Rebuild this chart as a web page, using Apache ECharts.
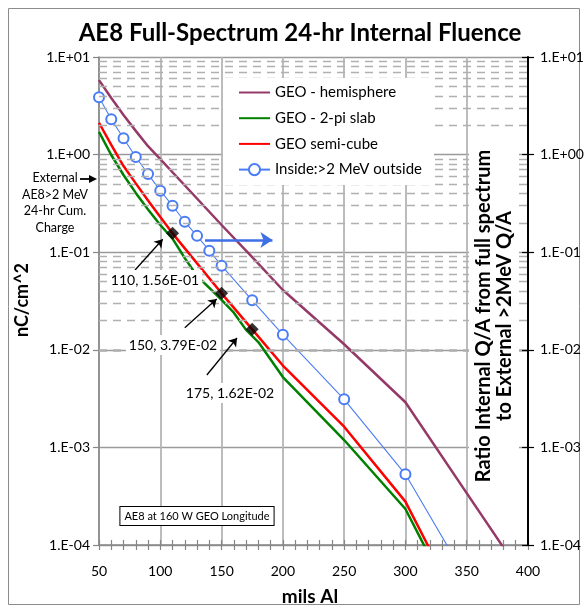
<!DOCTYPE html>
<html><head><meta charset="utf-8">
<script src="https://cdn.jsdelivr.net/npm/echarts@6/dist/echarts.min.js"></script>
<style>html,body{margin:0;padding:0;background:#fff}#c{width:587px;height:610px}</style>
</head><body><div id="c"></div>
<script>
const FONT = 'Lato, "Liberation Sans", sans-serif';

// ---- data (mils Al vs nC/cm^2) ----
const hemiMils = [50,60,70,80,90,100,125,150,175,200,250,300,350,400];
const hemiVals = [5.8,3.8,2.55,1.75,1.22,0.90,0.414,0.19,0.089,0.041,0.0114,0.0029,0.00034,0.00004];

const slabMils = [50,60,70,80,90,100,110,120,130,140,150,160,170,180,200,250,300,350];
const slabVals = [1.71,0.99,0.618,0.405,0.274,0.19,0.138,0.087,0.057,0.043,0.0324,0.024,0.016,0.012,0.00526,0.00119,0.000234,0.000014];

const cubeMils = [50,60,70,80,90,100,110,150,175,200,250,300,350];
const cubeVals = [2.12,1.26,0.764,0.507,0.338,0.229,0.156,0.0379,0.0162,0.0069,0.00163,0.000278,0.0000166];

const insideMils = [50,60,70,80,90,100,110,120,130,140,150,175,200,250,300,350];
const insideVals = [3.86,2.30,1.47,0.944,0.632,0.427,0.299,0.205,0.147,0.1035,0.0728,0.0321,0.0143,0.00311,0.00053,0.000045];

const markMils = [110,150,175];
const markVals = [0.156,0.0379,0.0162];
const markLabels = ['110, 1.56E-01','150, 3.79E-02','175, 1.62E-02'];

const seriesNames = ['GEO - hemisphere','GEO - 2-pi slab','GEO semi-cube','Inside:>2 MeV outside'];

const yMin = 1e-4, yMax = 10;
const minorMultipliers = [2,3,4,5,6,7,8,9];

function pairs(xs, ys){ return xs.map((x,i)=>[x, ys[i]]); }
function sci(v){
  const e = Math.round(Math.log10(v));
  const a = Math.abs(e);
  return '1.E' + (e < 0 ? '-' : '+') + (a < 10 ? '0' : '') + a;
}
const minorLines = [];
for (let k = -4; k <= 0; k++) minorMultipliers.forEach(m => minorLines.push({yAxis: m * Math.pow(10, k)}));

const chart = echarts.init(document.getElementById('c'), null, {renderer:'canvas'});

const logAxisBase = {type:'log', logBase:10, min:yMin, max:yMax, gridIndex:0};

const option = {
  animation:false,
  backgroundColor:'#fff',
  textStyle:{fontFamily:FONT},
  grid:{left:99, right:59, top:57, bottom:65, containLabel:false},
  legend:{
    show:true, orient:'vertical', left:223, top:78,
    data:[
      {name:seriesNames[0], itemStyle:{opacity:0}},
      {name:seriesNames[1], itemStyle:{opacity:0}},
      {name:seriesNames[2], itemStyle:{opacity:0}},
      {name:seriesNames[3]}
    ],
    backgroundColor:'#fff',
    padding:[7,12,8,15],
    itemWidth:31, itemHeight:14, itemGap:10.7,
    textStyle:{fontSize:15, color:'#000', fontFamily:FONT},
    z:20
  },
  xAxis:[
    {type:'value', min:50, max:400, interval:50, position:'bottom',
     axisLine:{show:true, onZero:false, lineStyle:{color:'#868686', width:1.5}},
     axisTick:{show:true, length:5, lineStyle:{color:'#868686', width:1.2}},
     minorTick:{show:true, splitNumber:5, length:5, lineStyle:{color:'#868686', width:1.2}},
     axisLabel:{margin:19, fontSize:14, color:'#000', fontFamily:FONT},
     splitLine:{show:true, lineStyle:{color:'#b5b5b5', width:1.8}}},
    {type:'value', min:50, max:400, interval:50, position:'bottom',
     axisLine:{show:false},
     axisTick:{show:true, inside:true, length:5, lineStyle:{color:'#868686', width:1.2}},
     minorTick:{show:true, splitNumber:5, length:5, lineStyle:{color:'#868686', width:1.2}},
     axisLabel:{show:false}, splitLine:{show:false}}
  ],
  yAxis:[
    Object.assign({}, logAxisBase, {position:'left',
     axisLine:{show:true, onZero:false, lineStyle:{color:'#868686', width:1.5}},
     axisTick:{show:true, length:6, lineStyle:{color:'#868686', width:1.2}},
     axisLabel:{margin:9, fontSize:14, color:'#000', fontFamily:FONT, formatter:sci},
     splitLine:{show:true, lineStyle:{color:'#9a9a9a', width:1.4}}}),
    Object.assign({}, logAxisBase, {position:'right',
     axisLine:{show:true, onZero:false, lineStyle:{color:'#000', width:2}},
     axisTick:{show:true, length:6, lineStyle:{color:'#000', width:1.2}},
     axisLabel:{margin:12, fontSize:14, color:'#000', fontFamily:FONT, formatter:sci},
     splitLine:{show:false}, z:30}),
    Object.assign({}, logAxisBase, {position:'right',
     axisLine:{show:false},
     axisTick:{show:true, inside:true, length:6, lineStyle:{color:'#000', width:1.2}},
     axisLabel:{show:false}, splitLine:{show:false}, z:30})
  ],
  series:[
    {name:'minor-grid', type:'line', data:[[50, 10]], symbol:'none', lineStyle:{width:0}, z:1,
     silent:true, tooltip:{show:false},
     markLine:{silent:true, symbol:['none','none'], label:{show:false},
       lineStyle:{type:[8,6], color:'#b0b0b0', width:1.4}, data:minorLines, animation:false}},
    {name:seriesNames[0], type:'line', data:pairs(hemiMils, hemiVals), symbol:'none', showSymbol:false,
     color:'#953A68', lineStyle:{color:'#953A68', width:2.5}, z:3},
    {name:seriesNames[1], type:'line', data:pairs(slabMils, slabVals), symbol:'none', showSymbol:false,
     color:'#008000', lineStyle:{color:'#008000', width:2.5}, z:3},
    {name:seriesNames[2], type:'line', data:pairs(cubeMils, cubeVals), symbol:'none', showSymbol:false,
     color:'#ff0000', lineStyle:{color:'#ff0000', width:2.5}, z:4},
    {name:seriesNames[3], type:'line', data:pairs(insideMils, insideVals), symbol:'emptyCircle', symbolSize:10,
     color:'#4a7cf5', lineStyle:{color:'#4a7cf5', width:1.1}, itemStyle:{color:'#4a7cf5', borderColor:'#4a7cf5', borderWidth:1.2}, z:4,
     markLine:{silent:true, symbol:['none','arrow'], symbolSize:12, label:{show:false},
       lineStyle:{type:'solid', color:'#3f6fe6', width:2.6},
       data:[[{coord:[136.5, 0.133]},{coord:[191.5, 0.133]}]], animation:false}},
    {name:'points', type:'scatter', data:pairs(markMils, markVals), symbol:'diamond', symbolSize:13,
     itemStyle:{color:'#000'}, z:6, silent:true,
     markLine:{silent:true, symbol:['none','arrow'], symbolSize:8, label:{show:false},
       lineStyle:{type:'solid', color:'#000', width:1.3},
       data:[
         [{coord:[79.4, 0.0658]},{coord:[102, 0.1356]}],
         [{coord:[120, 0.0168]},{coord:[146, 0.0331]}],
         [{coord:[138, 0.00552]},{coord:[162.6, 0.0132]}]
       ], animation:false}}
  ],
  graphic:[
    {type:'rect', shape:{x:8.5, y:8.5, width:571, height:596}, style:{fill:'none', stroke:'#8c8c8c', lineWidth:1}, z:0, silent:true},
    {type:'text', x:300, y:33, z:20, style:{text:'AE8 Full-Spectrum 24-hr Internal Fluence', fontSize:24, fontWeight:'bold', fontFamily:FONT, fill:'#000', align:'center', verticalAlign:'middle'}},
    {type:'text', x:22, y:300, rotation:Math.PI/2, z:20, style:{text:'nC/cm^2', fontSize:18, fontWeight:'bold', fontFamily:FONT, fill:'#000', align:'center', verticalAlign:'middle'}},
    {type:'text', x:494, y:316, rotation:Math.PI/2, z:20, style:{text:'Ratio Internal Q/A from full spectrum\nto External >2MeV Q/A', fontSize:20, fontWeight:'bold', fontFamily:FONT, fill:'#000', align:'center', verticalAlign:'middle', lineHeight:21, backgroundColor:'#fff', padding:[4,6,4,6]}},
    {type:'text', x:310, y:597, z:20, style:{text:'mils Al', fontSize:19, fontWeight:'bold', fontFamily:FONT, fill:'#000', align:'center', verticalAlign:'middle'}},
    {type:'text', x:55, y:203, z:20, style:{text:'External\nAE8>2 MeV\n24-hr Cum.\nCharge', fontSize:12.5, fontFamily:FONT, fill:'#000', align:'center', verticalAlign:'middle', lineHeight:16.7}},
    {type:'line', shape:{x1:80, y1:179, x2:91, y2:179}, style:{stroke:'#000', lineWidth:1.8}, z:20},
    {type:'polygon', shape:{points:[[97,179],[89,175],[89,183]]}, style:{fill:'#000'}, z:20},
    {type:'text', x:155, y:280, z:20, style:{text:markLabels[0], fontSize:14, fontFamily:FONT, fill:'#000', align:'center', verticalAlign:'middle', backgroundColor:'#fff', padding:[3,3,3,3]}},
    {type:'text', x:173, y:345, z:20, style:{text:markLabels[1], fontSize:14, fontFamily:FONT, fill:'#000', align:'center', verticalAlign:'middle', backgroundColor:'#fff', padding:[3,3,3,3]}},
    {type:'text', x:230, y:393, z:20, style:{text:markLabels[2], fontSize:14, fontFamily:FONT, fill:'#000', align:'center', verticalAlign:'middle', backgroundColor:'#fff', padding:[3,3,3,3]}},
    {type:'text', x:197, y:516, z:20, style:{text:'AE8 at 160 W GEO Longitude', fontSize:11, fontFamily:FONT, fill:'#000', align:'center', verticalAlign:'middle', backgroundColor:'#fff', borderColor:'#000', borderWidth:1, padding:[4,4,3,4]}}
  ]
};
chart.setOption(option);
</script>
</body></html>
